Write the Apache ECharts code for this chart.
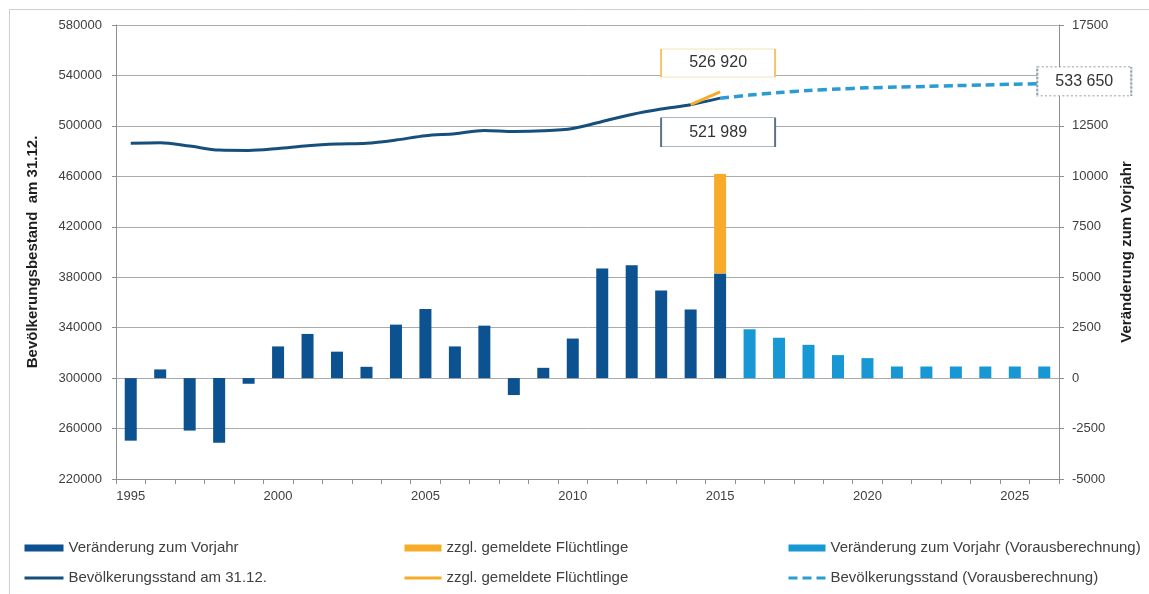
<!DOCTYPE html>
<html>
<head>
<meta charset="utf-8">
<script src="https://cdn.jsdelivr.net/npm/echarts@6/dist/echarts.min.js"></script>
<style>
html,body{margin:0;padding:0;background:#fff;}
#chart{width:1149px;height:594px;}
</style>
</head>
<body>
<div id="chart"></div>
<script>
// ---- data ----
const years = ['1995','1996','1997','1998','1999','2000','2001','2002','2003','2004','2005','2006','2007','2008','2009','2010','2011','2012','2013','2014','2015','2016','2017','2018','2019','2020','2021','2022','2023','2024','2025','2026'];
// change to previous year (actual), right axis
const change = [-3100,430,-2600,-3200,-280,1570,2190,1310,560,2650,3430,1570,2600,-840,510,1960,5430,5590,4340,3400,5180,null,null,null,null,null,null,null,null,null,null,null];
// additionally registered refugees 2015, right axis
const refugees = [null,null,null,null,null,null,null,null,null,null,null,null,null,null,null,null,null,null,null,null,4931,null,null,null,null,null,null,null,null,null,null,null];
// change to previous year (forecast), right axis
const changeForecast = [null,null,null,null,null,null,null,null,null,null,null,null,null,null,null,null,null,null,null,null,null,2420,2000,1650,1140,990,575,575,575,575,575,575];
// population on 31.12., left axis
const population = [486200,486600,484000,480800,480500,482100,484300,485600,486200,488800,492200,493800,496400,495600,496100,498000,503500,509100,513400,516800,521989,null,null,null,null,null,null,null,null,null,null,null];
// population incl. refugees
const populationRefugees = [null,null,null,null,null,null,null,null,null,null,null,null,null,null,null,null,null,null,null,516800,526920,null,null,null,null,null,null,null,null,null,null,null];
// population forecast
const populationForecast = [null,null,null,null,null,null,null,null,null,null,null,null,null,null,null,null,null,null,null,null,521989,524409,526409,528054,529189,530176,530751,531326,531901,532476,533051,533650];
// tick labels
const leftTicks = [220000,260000,300000,340000,380000,420000,460000,500000,540000,580000];
const rightTicks = [-5000,-2500,0,2500,5000,7500,10000,12500,15000,17500];

const C_DARK = '#0c5190';
const C_ORANGE = '#f8ab28';
const C_LIGHT = '#1797d4';
const C_LINE = '#164f7c';
const C_DASH = '#2a9bd3';
const fmt = v => String(v).replace(/\B(?=(\d{3})+(?!\d))/g, ' ');

const chart = echarts.init(document.getElementById('chart'), null, {renderer: 'canvas'});
const axisGray = '#8f8f8f';
const labelColor = '#404040';
const FONT = 'Liberation Sans, Arial, sans-serif';
const legendText = {fontSize: 15, color: labelColor, lineHeight: 16, fontFamily: FONT};
const noSym = {opacity: 0};

chart.setOption({
  animation: false,
  textStyle: {fontFamily: FONT},
  graphic: [{
    type: 'rect', left: 7, top: 7, silent: true,
    shape: {width: 1160, height: 600},
    style: {fill: 'none', stroke: '#cfcfcf', lineWidth: 1}
  }],
  grid: {left: 116, right: 90, top: 25, bottom: 115, containLabel: false},
  legend: [
    {orient: 'vertical', left: 18, top: 535, itemWidth: 39, itemHeight: 7, itemGap: 14, textStyle: legendText,
     data: [{name: 'Veränderung zum Vorjahr', icon: 'rect'},
            {name: 'Bevölkerungsstand am 31.12.', itemStyle: noSym, lineStyle: {width: 3}}]},
    {orient: 'vertical', left: 398, top: 535, itemWidth: 37, itemHeight: 7, itemGap: 14, textStyle: legendText,
     data: [{name: 'zzgl. gemeldete Flüchtlinge', icon: 'rect'},
            {name: 'zzgl. gemeldete Flüchtlinge ', itemStyle: noSym, lineStyle: {width: 3}}]},
    {orient: 'vertical', left: 782, top: 535, itemWidth: 37, itemHeight: 7, itemGap: 14, textStyle: legendText,
     data: [{name: 'Veränderung zum Vorjahr (Vorausberechnung)', icon: 'rect'},
            {name: 'Bevölkerungsstand (Vorausberechnung)', itemStyle: noSym, lineStyle: {width: 3}}]}
  ],
  xAxis: {
    type: 'category', data: years, boundaryGap: true,
    axisLine: {onZero: false, lineStyle: {color: axisGray, width: 1}},
    axisTick: {show: true, interval: 0, length: 5, lineStyle: {color: axisGray}},
    axisLabel: {interval: 4, color: labelColor, fontSize: 13, margin: 11, fontFamily: FONT},
    splitLine: {show: false}
  },
  yAxis: [
    {
      type: 'value', position: 'left', min: 220000, max: 580000, interval: 20000,
      name: 'Bevölkerungsbestand  am 31.12.', nameLocation: 'middle', nameRotate: 90, nameGap: 76,
      nameTextStyle: {fontSize: 15, fontWeight: 'bold', color: '#1e1e1e', fontFamily: FONT},
      axisLine: {show: true, lineStyle: {color: axisGray}},
      axisTick: {show: true, length: 4, lineStyle: {color: axisGray}, customValues: leftTicks},
      axisLabel: {color: labelColor, fontSize: 13, margin: 14, fontFamily: FONT, customValues: leftTicks,
        formatter: v => (leftTicks.indexOf(v) >= 0 ? String(v) : '')},
      splitLine: {show: false}
    },
    {
      type: 'value', position: 'right', min: -5000, max: 17500, interval: 2500,
      name: 'Veränderung zum Vorjahr', nameLocation: 'middle', nameRotate: 90, nameGap: 60,
      nameTextStyle: {fontSize: 15, fontWeight: 'bold', color: '#1e1e1e', fontFamily: FONT},
      axisLine: {show: true, lineStyle: {color: axisGray}},
      axisTick: {show: true, length: 5, lineStyle: {color: axisGray}},
      axisLabel: {color: labelColor, fontSize: 13, margin: 13, fontFamily: FONT,
        formatter: v => (rightTicks.indexOf(v) >= 0 ? String(v) : '')},
      splitLine: {show: true, lineStyle: {color: '#ababab', width: 1}}
    }
  ],
  series: [
    {name: 'Veränderung zum Vorjahr', type: 'bar', yAxisIndex: 1, stack: 'chg', barWidth: 12,
     itemStyle: {color: C_DARK}, data: change},
    {name: 'zzgl. gemeldete Flüchtlinge', type: 'bar', yAxisIndex: 1, stack: 'chg', barWidth: 12,
     itemStyle: {color: C_ORANGE}, data: refugees},
    {name: 'Veränderung zum Vorjahr (Vorausberechnung)', type: 'bar', yAxisIndex: 1, stack: 'chg', barWidth: 12,
     itemStyle: {color: C_LIGHT}, data: changeForecast},
    {name: 'Bevölkerungsstand am 31.12.', type: 'line', yAxisIndex: 0, data: population,
     symbol: 'none', smooth: 0.3, lineStyle: {color: C_LINE, width: 3}, itemStyle: {color: C_LINE},
     markPoint: {symbol: 'rect', silent: true, data: [{
       coord: [years[20], population[20]], symbolSize: [114, 29], symbolOffset: [-2, 34],
       itemStyle: {color: '#ffffff', borderColor: '#5b7282', borderWidth: 1, opacity: 1},
       label: {show: true, position: 'inside', formatter: fmt(population[20]), fontSize: 16, color: '#333', fontFamily: FONT}
     }]}},
    {name: 'Bevölkerungsstand (Vorausberechnung)', type: 'line', yAxisIndex: 0, data: populationForecast,
     symbol: 'none', smooth: 0.3, lineStyle: {color: C_DASH, width: 3.5, type: [9, 5]}, itemStyle: {color: C_DASH},
     markPoint: {symbol: 'rect', silent: true, data: [{
       coord: [years[31], populationForecast[31]], symbolSize: [94, 29], symbolOffset: [40, -2],
       itemStyle: {color: '#ffffff', borderColor: '#6f8597', borderWidth: 1.2, borderType: 'dotted', opacity: 1},
       label: {show: true, position: 'inside', formatter: fmt(populationForecast[31]), fontSize: 16, color: '#333', fontFamily: FONT}
     }]}},
    {name: 'zzgl. gemeldete Flüchtlinge ', type: 'line', yAxisIndex: 0, data: populationRefugees,
     symbol: 'none', smooth: false, lineStyle: {color: C_ORANGE, width: 3}, itemStyle: {color: C_ORANGE},
     markPoint: {symbol: 'rect', silent: true, data: [{
       coord: [years[20], populationRefugees[20]], symbolSize: [114, 28], symbolOffset: [-2, -29],
       itemStyle: {color: '#ffffff', borderColor: '#f0c46a', borderWidth: 1, opacity: 1},
       label: {show: true, position: 'inside', formatter: fmt(populationRefugees[20]), fontSize: 16, color: '#333', fontFamily: FONT}
     }]}}
  ]
});
</script>
</body>
</html>
